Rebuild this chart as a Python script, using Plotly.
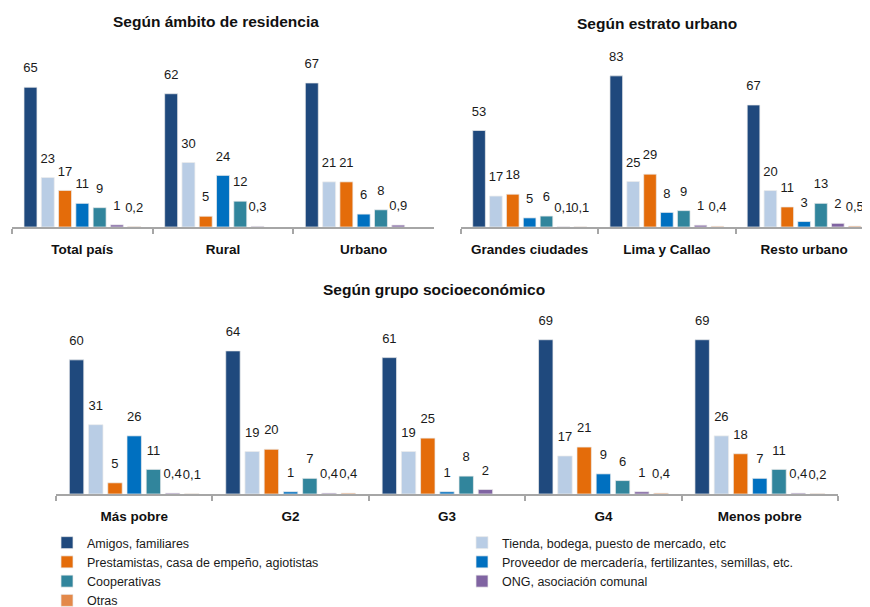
import plotly.graph_objects as go

# ---------------- data ----------------
series = [
    "Amigos, familiares",
    "Tienda, bodega, puesto de mercado, etc",
    "Prestamistas, casa de empeño, agiotistas",
    "Proveedor de mercadería, fertilizantes, semillas, etc.",
    "Cooperativas",
    "ONG, asociación comunal",
    "Otras",
]
colors = ["#1F497D", "#B9CDE5", "#E46C0A", "#0070C0", "#31859C", "#8064A2", "#E3894A"]

ambito_cats = ["Total país", "Rural", "Urbano"]
ambito_amigos = [65, 62, 67]
ambito_tienda = [23, 30, 21]
ambito_prest = [17, 5, 21]
ambito_prov = [11, 24, 6]
ambito_coop = [9, 12, 8]
ambito_ong = [1, 0.3, 0.9]
ambito_otras = [0.2, None, None]

estrato_cats = ["Grandes ciudades", "Lima y Callao", "Resto urbano"]
estrato_amigos = [53, 83, 67]
estrato_tienda = [17, 25, 20]
estrato_prest = [18, 29, 11]
estrato_prov = [5, 8, 3]
estrato_coop = [6, 9, 13]
estrato_ong = [0.1, 1, 2]
estrato_otras = [0.1, 0.4, 0.5]

socio_cats = ["Más pobre", "G2", "G3", "G4", "Menos pobre"]
socio_amigos = [60, 64, 61, 69, 69]
socio_tienda = [31, 19, 19, 17, 26]
socio_prest = [5, 20, 25, 21, 18]
socio_prov = [26, 1, 1, 9, 7]
socio_coop = [11, 7, 8, 6, 11]
socio_ong = [0.4, 0.4, 2, 1, 0.4]
socio_otras = [0.1, 0.4, None, 0.4, 0.2]

titles = ["Según ámbito de residencia", "Según estrato urbano", "Según grupo socioeconómico"]

panels = [
    (ambito_cats, [ambito_amigos, ambito_tienda, ambito_prest, ambito_prov, ambito_coop, ambito_ong, ambito_otras], "x", "y"),
    (estrato_cats, [estrato_amigos, estrato_tienda, estrato_prest, estrato_prov, estrato_coop, estrato_ong, estrato_otras], "x2", "y2"),
    (socio_cats, [socio_amigos, socio_tienda, socio_prest, socio_prov, socio_coop, socio_ong, socio_otras], "x3", "y3"),
]


def fmt(v):
    if v is None:
        return ""
    if float(v).is_integer():
        return str(int(v))
    return str(v).replace(".", ",")


# the page body keeps its default 8px margin, so the figure is sized to fit the window
OFF = 8
W, H = 870 - OFF, 607 - OFF


def fx(px):
    return (px - OFF) / W


def fy(py):
    return 1 - (py - OFF) / H


FONT = "Liberation Sans, Arial, sans-serif"
left_col = {0, 2, 4, 6}

fig = go.Figure()
for p, (cats, vals, xa, ya) in enumerate(panels):
    for i, (name, v) in enumerate(zip(series, vals)):
        fig.add_trace(go.Bar(
            x=cats, y=v, name=name, xaxis=xa, yaxis=ya,
            marker=dict(color=colors[i], line=dict(color="rgba(235,235,235,0.9)", width=0.8)),
            showlegend=(p == 0),
            legend=("legend" if i in left_col else "legend2"),
            legendgroup=name, hoverinfo="skip",
        ))
    for i, (name, v) in enumerate(zip(series, vals)):
        fig.add_trace(go.Scatter(
            x=cats, y=v, xaxis=xa, yaxis=ya, mode="markers+text",
            text=[fmt(t) for t in v], textposition="top center",
            textfont=dict(family=FONT, size=13, color="#1a1a1a"),
            marker=dict(size=17, opacity=0),
            orientation="v", showlegend=False, hoverinfo="skip",
            cliponaxis=False,
        ))

axis_common = dict(
    type="category", showline=True, linecolor="#A6A6A6", linewidth=2,
    ticks="outside", tickson="boundaries", ticklen=5, tickwidth=2, tickcolor="#A6A6A6",
    showgrid=False, zeroline=False, fixedrange=True, ticklabelstandoff=9, automargin=False,
    tickfont=dict(family=FONT, size=13.5, color="#111111", weight="bold"),
)
yaxis_common = dict(visible=False, fixedrange=True, automargin=False)
ytop = [fy(227), fy(40)]
ybot = [fy(494), fy(310)]
legfont = dict(family=FONT, size=12.5, color="#1a1a1a")
titlefont = dict(family=FONT, size=15.5, color="#111111", weight="bold")

fig.update_layout(
    template="none",
    width=W, height=H, margin=dict(l=0, r=0, t=0, b=0, pad=0, autoexpand=False),
    paper_bgcolor="white", plot_bgcolor="white",
    barmode="group", bargap=0.14, bargroupgap=0.25,
    scattermode="group", scattergap=0.14,
    xaxis=dict(domain=[fx(12), fx(434)], anchor="y", range=[-0.5, 2.5], **axis_common),
    yaxis=dict(domain=ytop, anchor="x", range=[0, 87], **yaxis_common),
    xaxis2=dict(domain=[fx(461), 1.0], anchor="y2", range=[-0.5, 2.48], **axis_common),
    yaxis2=dict(domain=ytop, anchor="x2", range=[0, 102.7], **yaxis_common),
    xaxis3=dict(domain=[fx(56), fx(838)], anchor="y3", range=[-0.5, 4.5], **axis_common),
    yaxis3=dict(domain=ybot, anchor="x3", range=[0, 82.3], **yaxis_common),
    legend=dict(x=fx(47), y=fy(528), xanchor="left", yanchor="top", orientation="v",
                font=legfont, traceorder="normal", borderwidth=0,
                bgcolor="rgba(0,0,0,0)", itemclick=False, itemdoubleclick=False),
    legend2=dict(x=fx(462), y=fy(528), xanchor="left", yanchor="top", orientation="v",
                 font=legfont, traceorder="normal", borderwidth=0,
                 bgcolor="rgba(0,0,0,0)", itemclick=False, itemdoubleclick=False),
    annotations=[
        dict(text=titles[0], x=fx(216), y=fy(21), xref="paper", yref="paper", showarrow=False,
             xanchor="center", yanchor="middle", font=titlefont),
        dict(text=titles[1], x=fx(657), y=fy(23), xref="paper", yref="paper", showarrow=False,
             xanchor="center", yanchor="middle", font=titlefont),
        dict(text=titles[2], x=fx(434), y=fy(289), xref="paper", yref="paper", showarrow=False,
             xanchor="center", yanchor="middle", font=titlefont),
    ],
)

fig.write_html("out.html")
